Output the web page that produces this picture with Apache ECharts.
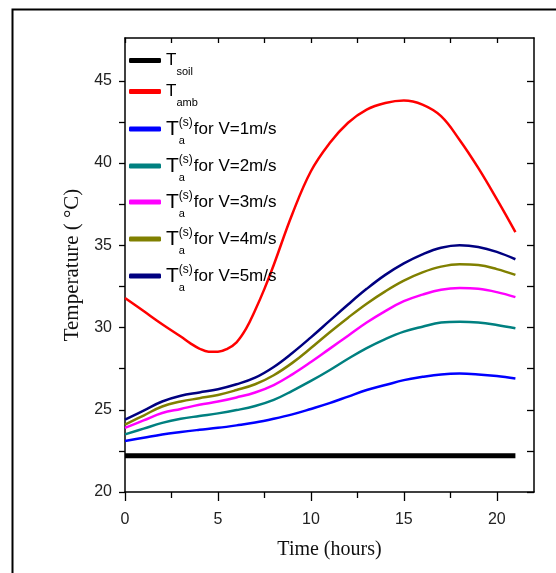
<!DOCTYPE html>
<html>
<head>
<meta charset="utf-8">
<script src="https://cdn.jsdelivr.net/npm/echarts@6/dist/echarts.min.js"></script>
<style>html,body{margin:0;padding:0;background:#fff}#c{width:556px;height:573px}</style>
</head>
<body>
<div id="c"></div>
<script>
// ---- data ----
const hours = [0,1,2,3,4,5,6,7,8,9,10,11,12,13,14,15,16,17,18,19,20,21];
const hoursAmb = [0,1,2,3,3.5,4,4.5,5,5.5,6,6.5,7,7.5,8,9,10,11,12,13,14,15,16,17,18,19,20,21];
const tSoil = [22.2,22.2,22.2,22.2,22.2,22.2,22.2,22.2,22.2,22.2,22.2,22.2,22.2,22.2,22.2,22.2,22.2,22.2,22.2,22.2,22.2,22.2];
const tAmb  = [31.8,31.0,30.2,29.45,29.05,28.72,28.53,28.52,28.7,29.1,29.9,31.05,32.35,33.8,36.9,39.5,41.2,42.45,43.25,43.65,43.8,43.55,42.85,41.4,39.7,37.8,35.8];
const tV1   = [23.1,23.3,23.5,23.65,23.78,23.9,24.05,24.22,24.45,24.72,25.05,25.4,25.8,26.2,26.5,26.8,27.0,27.15,27.2,27.15,27.05,26.9];
const tV2   = [23.5,23.85,24.2,24.45,24.62,24.78,24.98,25.23,25.6,26.15,26.75,27.4,28.1,28.75,29.3,29.75,30.05,30.3,30.35,30.3,30.15,29.95];
const tV3   = [23.9,24.35,24.8,25.05,25.3,25.5,25.75,26.05,26.5,27.15,27.9,28.7,29.5,30.3,31.0,31.6,32.0,32.3,32.4,32.35,32.15,31.85];
const tV4   = [24.1,24.65,25.2,25.5,25.7,25.9,26.2,26.55,27.1,27.85,28.75,29.7,30.6,31.45,32.2,32.85,33.35,33.7,33.85,33.8,33.55,33.2];
const tV5   = [24.4,24.95,25.5,25.85,26.05,26.25,26.55,26.95,27.6,28.45,29.4,30.4,31.4,32.35,33.2,33.9,34.45,34.85,35.0,34.9,34.6,34.15];
const seriesNames = ['Tsoil','Tamb','V1','V2','V3','V4','V5'];
const legendLabels = [
  '{T2|T}{sub|soil}',
  '{T2|T}{sub|amb}',
  '{T|T}{a|a}{sup|(s)}{txt|for V=1m/s}',
  '{T|T}{a|a}{sup|(s)}{txt|for V=2m/s}',
  '{T|T}{a|a}{sup|(s)}{txt|for V=3m/s}',
  '{T|T}{a|a}{sup|(s)}{txt|for V=4m/s}',
  '{T|T}{a|a}{sup|(s)}{txt|for V=5m/s}'
];
const xMajorTicks = [0,5,10,15,20];
const xMinorTicks = [2.5,7.5,12.5,17.5];
const yMajorTicks = [20,25,30,35,40,45];
const yAllTicks = [20,22.5,25,27.5,30,32.5,35,37.5,40,42.5,45];
const xAllTicks = [0,2.5,5,7.5,10,12.5,15,17.5,20];

// ---- styles / layout ----
const colors = ['#000000','#ff0000','#0000ff','#008080','#ff00ff','#808000','#000080'];
const widths = [5,2.5,2.5,2.5,2.5,2.5,2.5];
const legendCenterY = [61,92,129,166,202,239,276];
const legendOffset = [14,14,22,22,22,22,22];
const values = [tSoil,tAmb,tV1,tV2,tV3,tV4,tV5];
const xs = [hours,hoursAmb,hours,hours,hours,hours,hours];

const sans = 'Liberation Sans, Arial, sans-serif';
const serif = 'Liberation Serif, Times New Roman, serif';
const rich = {
  T:{fontSize:21,lineHeight:34,fontFamily:sans,color:'#000'},
  T2:{fontSize:17,lineHeight:34,fontFamily:sans,color:'#000'},
  sub:{fontSize:11,lineHeight:10,verticalAlign:'bottom',fontFamily:sans,color:'#000'},
  a:{fontSize:11,lineHeight:10,width:0,verticalAlign:'bottom',fontFamily:sans,color:'#000'},
  sup:{fontSize:12,lineHeight:12,verticalAlign:'top',padding:[5,0,0,0],fontFamily:sans,color:'#000'},
  txt:{fontSize:17,lineHeight:34,padding:[0,0,0,1],fontFamily:sans,color:'#000'}
};

const axLine = {show:true,onZero:false,lineStyle:{color:'#000',width:1.5}};
const tickStyle = {color:'#000',width:1.3};

const chart = echarts.init(document.getElementById('c'),null,{renderer:'canvas'});
chart.setOption({
  backgroundColor:'#fff',
  animation:false,
  graphic:[{type:'rect',shape:{x:12.5,y:9.5,width:700,height:700},style:{fill:'none',stroke:'#000',lineWidth:2},z:-1}],
  grid:{left:125,top:38,right:22,bottom:81},
  legend: seriesNames.map((n,i)=>({
    data:[n], left:124, top:legendCenterY[i]-legendOffset[i], icon:'roundRect', itemWidth:32, itemHeight:5,
    selectedMode:false, formatter:()=>legendLabels[i], textStyle:{rich:rich}
  })),
  xAxis:[
    {type:'value',min:0,max:22,interval:5,position:'bottom',axisLine:axLine,
     axisTick:{show:true,length:9,customValues:xMajorTicks,lineStyle:tickStyle},
     splitLine:{show:false},
     axisLabel:{customValues:xMajorTicks,fontSize:16,color:'#222',margin:20,fontFamily:sans},
     name:'Time (hours)',nameLocation:'middle',nameGap:48,
     nameTextStyle:{fontFamily:serif,fontSize:20,color:'#111'}},
    {type:'value',min:0,max:22,interval:5,position:'bottom',axisLine:{show:false},
     axisTick:{show:true,length:6,customValues:xMinorTicks,lineStyle:tickStyle},
     splitLine:{show:false},axisLabel:{show:false}},
    {type:'value',min:0,max:22,interval:5,position:'top',axisLine:axLine,
     axisTick:{show:true,inside:true,length:5,customValues:xAllTicks,lineStyle:tickStyle},
     splitLine:{show:false},axisLabel:{show:false}}
  ],
  yAxis:[
    {type:'value',min:20,max:47.6,interval:5,position:'left',axisLine:axLine,
     axisTick:{show:true,length:6,customValues:yAllTicks,lineStyle:tickStyle},
     splitLine:{show:false},
     axisLabel:{customValues:yMajorTicks,fontSize:16,color:'#222',margin:13,fontFamily:sans},
     name:'Temperature ( °C)',nameLocation:'middle',nameGap:42,
     nameTextStyle:{fontFamily:serif,fontSize:21,color:'#111'}},
    {type:'value',min:20,max:47.6,interval:5,position:'right',axisLine:axLine,
     axisTick:{show:true,inside:true,length:7,customValues:yAllTicks,lineStyle:tickStyle},
     splitLine:{show:false},axisLabel:{show:false}}
  ],
  series: seriesNames.map((n,i)=>({
    name:n,type:'line',xAxisIndex:0,yAxisIndex:0,smooth:0.4,showSymbol:false,symbol:'none',
    data:xs[i].map((h,j)=>[h,values[i][j]]),
    lineStyle:{color:colors[i],width:widths[i]},itemStyle:{color:colors[i]},
    z: i===0?3:2
  }))
});
</script>
</body>
</html>
